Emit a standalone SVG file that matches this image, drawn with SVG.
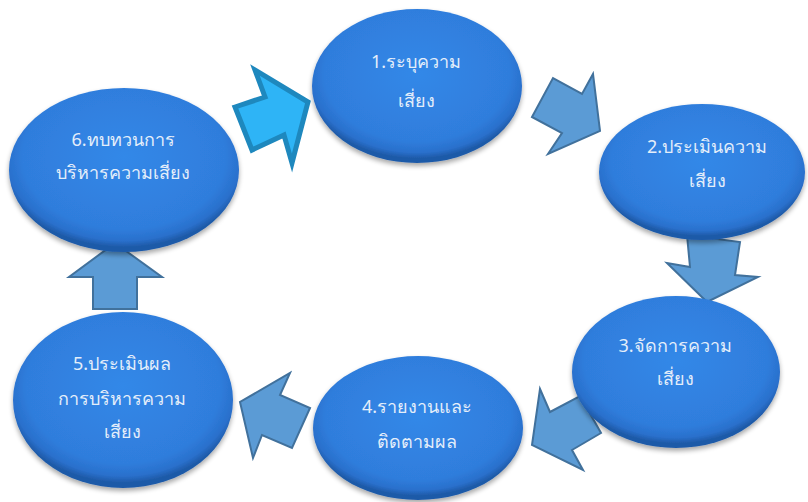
<svg xmlns="http://www.w3.org/2000/svg" width="808" height="502" viewBox="0 0 808 502">
<defs>
<radialGradient id="eg" cx="50%" cy="42%" r="55%">
<stop offset="0" stop-color="#3388E8"/>
<stop offset="0.8" stop-color="#2F7DDC"/>
<stop offset="0.93" stop-color="#2A70CC"/>
<stop offset="1" stop-color="#1E5AA8"/>
</radialGradient>
<filter id="sh" x="-10%" y="-10%" width="120%" height="125%">
<feGaussianBlur in="SourceAlpha" stdDeviation="2.5"/>
<feOffset dx="0" dy="3" result="b"/>
<feComponentTransfer><feFuncA type="linear" slope="0.35"/></feComponentTransfer>
<feMerge><feMergeNode/><feMergeNode in="SourceGraphic"/></feMerge>
</filter>
</defs>
<style>
.node ellipse{fill:url(#eg);filter:url(#sh)}
.node text{font-family:"Noto Sans","DejaVu Sans",sans-serif;font-size:18px;fill:#E4EEFA;text-anchor:middle}
.arr{fill:#5B9BD5;stroke:#41719C;stroke-width:2;stroke-linejoin:miter}
.arr1{fill:#2EB4F6;stroke:#1E88BE;stroke-width:5;stroke-linejoin:miter}
</style>
<rect width="808" height="502" fill="#FFFFFF"/>
<g id="connectors">
<polygon class="arr1" points="235,107 265,97 255,70 308,102 292,163 284,135 252,150"/>
<polygon class="arr" points="532,117 553,78 582,94 593,74 600,131 548,154 562,133"/>
<polygon class="arr" points="687,235 740,242 735,275 758,277 707,302 667,263 690,267"/>
<polygon class="arr" points="580,396 601,433 572,450 583,470 532,445 540,389 550,412"/>
<polygon class="arr" points="310,408 292,448 262,435 253,458 240,402 290,373 280,395"/>
<polygon class="arr" points="115,243 162,277 137,277 137,309 93,309 93,277 69,277"/>
</g>
<g id="node1" class="node">
<ellipse cx="417" cy="86" rx="105" ry="77"/>
<text x="416" y="68">1.ระบุความ</text>
<text x="416" y="107">เสี่ยง</text>
</g>
<g id="node2" class="node">
<ellipse cx="702" cy="172" rx="103" ry="68"/>
<text x="707" y="153">2.ประเมินความ</text>
<text x="707" y="187">เสี่ยง</text>
</g>
<g id="node3" class="node">
<ellipse cx="676" cy="372" rx="104" ry="76"/>
<text x="675" y="352">3.จัดการความ</text>
<text x="675" y="385">เสี่ยง</text>
</g>
<g id="node4" class="node">
<ellipse cx="418" cy="428" rx="105" ry="72"/>
<text x="417" y="413">4.รายงานและ</text>
<text x="417" y="448">ติดตามผล</text>
</g>
<g id="node5" class="node">
<ellipse cx="123" cy="400" rx="110" ry="88"/>
<text x="122" y="370">5.ประเมินผล</text>
<text x="122" y="405">การบริหารความ</text>
<text x="122" y="438">เสี่ยง</text>
</g>
<g id="node6" class="node">
<ellipse cx="124" cy="170" rx="115" ry="82"/>
<text x="123" y="146">6.ทบทวนการ</text>
<text x="123" y="179">บริหารความเสี่ยง</text>
</g>
</svg>
